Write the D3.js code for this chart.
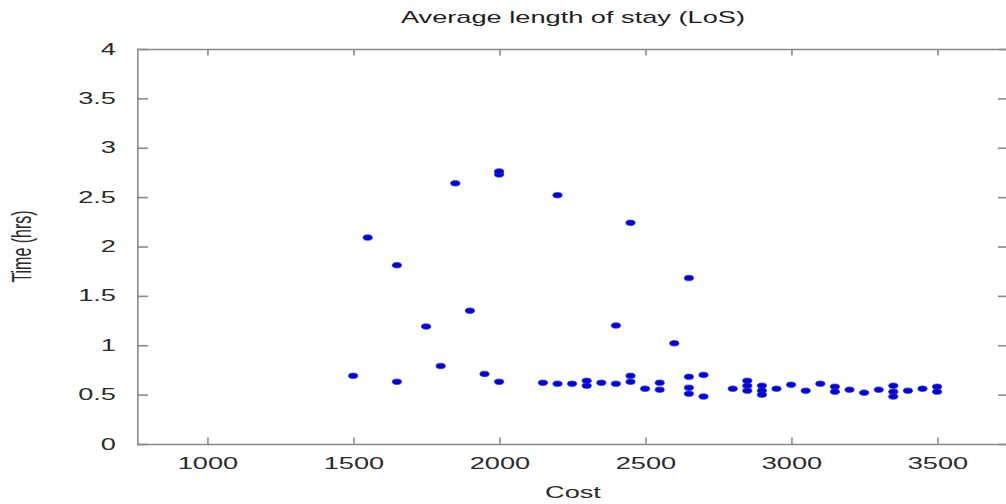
<!DOCTYPE html>
<html>
<head>
<meta charset="utf-8">
<script src="https://cdn.jsdelivr.net/npm/d3@7"></script>
<style>
  html, body { margin: 0; padding: 0; background: #fff; }
  svg { display: block; }
  text { font-family: "Liberation Sans", Arial, Helvetica, sans-serif; }
</style>
</head>
<body>
<svg id="chart" width="1006" height="504"></svg>
<script>
// Average length of stay against cost
const cost = [
  1500, 1550, 1650, 1650, 1750, 1800, 1850, 1900, 1950, 2000, 2000, 2000,
  2150, 2200, 2200, 2250, 2300, 2300, 2350, 2400, 2400, 2450, 2450, 2450,
  2500, 2550, 2550, 2600, 2650, 2650, 2650, 2650, 2700, 2700, 2800,
  2850, 2850, 2850, 2900, 2900, 2900, 2950, 3000, 3050, 3100, 3150, 3150,
  3200, 3250, 3300, 3350, 3350, 3350, 3400, 3450, 3500, 3500
];
const timeHrs = [
  0.69, 2.09, 1.81, 0.63, 1.19, 0.79, 2.64, 1.35, 0.71, 2.73, 2.76, 0.63,
  0.62, 2.52, 0.61, 0.61, 0.64, 0.59, 0.62, 1.20, 0.61, 2.24, 0.69, 0.63,
  0.56, 0.62, 0.55, 1.02, 1.68, 0.68, 0.57, 0.51, 0.70, 0.48, 0.56,
  0.64, 0.59, 0.54, 0.59, 0.54, 0.50, 0.56, 0.60, 0.54, 0.61, 0.58, 0.53,
  0.55, 0.52, 0.55, 0.59, 0.53, 0.48, 0.54, 0.56, 0.58, 0.53
];
const xTicks = [1000, 1500, 2000, 2500, 3000, 3500];
const yTicks = [0, 0.5, 1, 1.5, 2, 2.5, 3, 3.5, 4];
const xDomain = [760, 3746];
const yDomain = [0, 4];
const titleText = "Average length of stay (LoS)";
const xLabel = "Cost";
const yLabel = "Time (hrs)";

// The figure is laid out in a narrow frame and widened horizontally.
const SX = 1.7;
const frame = { left: 80.6, right: 593.5, top: 49, bottom: 444 };
const axisGrey = "#8a8a8a";
const inTick = 6.5;

const svg = d3.select("#chart");
const g = svg.append("g").attr("transform", `scale(${SX},1)`);

const x = d3.scaleLinear().domain(xDomain).range([frame.left, frame.right]);
const y = d3.scaleLinear().domain(yDomain).range([frame.bottom, frame.top]);

function styleAxis(sel) {
  sel.selectAll("path.domain, line")
    .attr("stroke", axisGrey)
    .attr("stroke-width", 1.6)
    .attr("vector-effect", "non-scaling-stroke");
  sel.selectAll("text")
    .attr("fill", "#2b2b2b")
    .style("font-size", "16px");
}

// bottom axis, ticks pointing inward
g.append("g")
  .attr("transform", `translate(0,${frame.bottom})`)
  .call(d3.axisBottom(x).tickValues(xTicks).tickFormat(d3.format("d"))
    .tickSizeInner(-inTick).tickSizeOuter(0).tickPadding(14))
  .call(styleAxis);

// top frame edge with inward ticks
g.append("g")
  .attr("transform", `translate(0,${frame.top})`)
  .call(d3.axisTop(x).tickValues(xTicks).tickFormat("")
    .tickSizeInner(-inTick).tickSizeOuter(0))
  .call(styleAxis);

// left axis
g.append("g")
  .attr("transform", `translate(${frame.left},0)`)
  .call(d3.axisLeft(y).tickValues(yTicks).tickFormat(d3.format(""))
    .tickSizeInner(-inTick).tickSizeOuter(0).tickPadding(12.4))
  .call(styleAxis);

// right frame edge with inward ticks
g.append("g")
  .attr("transform", `translate(${frame.right},0)`)
  .call(d3.axisRight(y).tickValues(yTicks).tickFormat("")
    .tickSizeInner(-inTick).tickSizeOuter(0))
  .call(styleAxis);

g.selectAll("g.tick text").attr("font-family", null);

// scatter points
const pts = cost.map((c, i) => ({ c, t: timeHrs[i] }));
g.append("g")
  .selectAll("circle")
  .data(pts)
  .join("circle")
  .attr("cx", d => x(d.c))
  .attr("cy", d => y(d.t))
  .attr("r", 2.75)
  .attr("fill", "#0606c4")
  .attr("stroke", "#2a2af0")
  .attr("stroke-width", 0.7)
  .attr("vector-effect", "non-scaling-stroke");

const midX = (frame.left + frame.right) / 2;

g.append("text")
  .attr("x", midX)
  .attr("y", 23)
  .attr("text-anchor", "middle")
  .attr("fill", "#1e1e1e")
  .style("font-size", "16px")
  .text(titleText);

g.append("text")
  .attr("x", midX)
  .attr("y", 498.5)
  .attr("text-anchor", "middle")
  .attr("fill", "#2b2b2b")
  .style("font-size", "16px")
  .text(xLabel);

g.append("text")
  .attr("transform", `translate(18,${(frame.top + frame.bottom) / 2}) rotate(-90)`)
  .attr("text-anchor", "middle")
  .attr("fill", "#2b2b2b")
  .style("font-size", "16px")
  .text(yLabel);
</script>
</body>
</html>
